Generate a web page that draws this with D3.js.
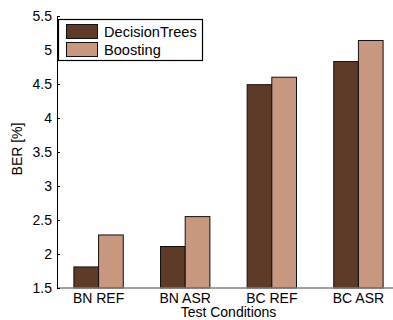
<!DOCTYPE html>
<html><head><meta charset="utf-8">
<script src="https://cdn.jsdelivr.net/npm/d3@7"></script>
<style>html,body{margin:0;padding:0;background:#fff;overflow:hidden}</style>
</head><body>
<svg id="chart" width="393" height="320"></svg>
<script>
const categories = ["BN REF", "BN ASR", "BC REF", "BC ASR"];
const decisionTrees = [1.81, 2.11, 4.49, 4.83];
const boosting = [2.28, 2.55, 4.60, 5.14];
const seriesNames = ["DecisionTrees", "Boosting"];
const yTicks = [1.5, 2, 2.5, 3, 3.5, 4, 4.5, 5, 5.5];
const colors = ["#5e3a28", "#c8977f"];

(function () {
const svg = d3.select("#chart");
const font = "Liberation Sans, Arial, Helvetica, sans-serif";
const mLeft = 57, mRight = 400, mTop = 16, mBottom = 288;

const x = d3.scaleLinear().domain([0.52, 4.48]).range([mLeft, mRight]);
const y = d3.scaleLinear().domain([1.5, 5.5]).range([mBottom, mTop]);
const barW = 0.285;
const series = [decisionTrees, boosting];

// bars
series.forEach((vals, si) => {
  svg.append("g").selectAll("rect").data(vals).join("rect")
    .attr("x", (d, i) => x(i + 1 + (si - 1) * barW))
    .attr("width", x(barW) - x(0))
    .attr("y", d => y(d))
    .attr("height", d => y(1.5) - y(d))
    .attr("fill", colors[si])
    .attr("stroke", "#111")
    .attr("stroke-width", 1);
});

// baseline
svg.append("line").attr("x1", mLeft).attr("x2", 393)
  .attr("y1", y(1.5)).attr("y2", y(1.5))
  .attr("stroke", "#808080").attr("stroke-width", 1.5);

// y axis
const yAxis = d3.axisLeft(y).tickValues(yTicks).tickFormat(d3.format("~g"))
  .tickSizeInner(-3).tickSizeOuter(0).tickPadding(5);
const gy = svg.append("g").attr("transform", `translate(${mLeft},0)`).call(yAxis);
gy.selectAll("text").attr("font-family", font).attr("font-size", 14).attr("fill", "#000");
gy.selectAll("line").attr("stroke", "#000");
gy.select(".domain").attr("stroke", "#000");

// x tick labels
svg.append("g").selectAll("text").data(categories).join("text")
  .attr("x", (d, i) => x(i + 1)).attr("y", 303)
  .attr("text-anchor", "middle").attr("font-family", font).attr("font-size", 14)
  .text(d => d);

// axis titles
svg.append("text").attr("x", (mLeft + mRight) / 2).attr("y", 317)
  .attr("text-anchor", "middle").attr("font-family", font).attr("font-size", 14)
  .text("Test Conditions");
svg.append("text").attr("transform", `translate(22,149) rotate(-90)`)
  .attr("text-anchor", "middle").attr("font-family", font).attr("font-size", 14)
  .text("BER [%]");

// legend
const lg = svg.append("g");
lg.append("rect").attr("x", 58.5).attr("y", 19.5).attr("width", 144).attr("height", 41)
  .attr("fill", "#fff").attr("stroke", "#000").attr("stroke-width", 1.2);
seriesNames.forEach((n, i) => {
  lg.append("rect").attr("x", 66.5).attr("y", 24.5 + i * 18).attr("width", 31).attr("height", 14)
    .attr("fill", colors[i]).attr("stroke", "#111");
  lg.append("text").attr("x", 104).attr("y", 36.5 + i * 18)
    .attr("font-family", font).attr("font-size", 14.6).text(n);
});
})();
</script>
</body></html>
